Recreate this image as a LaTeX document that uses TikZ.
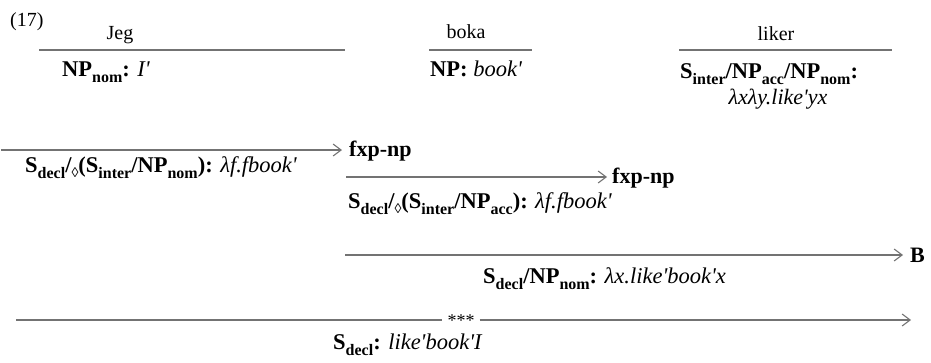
\documentclass[tikz,border=0pt]{standalone}
\usepackage{fontspec}
\setmainfont{Liberation Serif}
\usetikzlibrary{arrows.meta}
\definecolor{linegray}{RGB}{115,115,115}
\newcommand\sbx[1]{\raisebox{-0.3em}{\fontsize{16}{16}\selectfont #1}}
\newcommand\dmd{\raisebox{-0.25em}{\fontsize{14}{14}\selectfont\mdseries ◊}}
\newcommand\pr{\textquotesingle}
\begin{document}
\begin{tikzpicture}[x=1pt,y=-1pt,
  lbl/.style={anchor=base west, inner sep=0pt, font=\fontsize{22.5}{22.5}\selectfont},
  word/.style={anchor=base, inner sep=0pt, font=\fontsize{20}{20}\selectfont},
  rulebar/.style={draw=linegray, line width=1.6pt},
  arr/.style={rulebar, -{Straight Barb[length=8pt,width=12pt,line width=1.1pt]}},
  rname/.style={anchor=base west, inner sep=0pt, font=\fontsize{22}{22}\selectfont\bfseries}]
\useasboundingbox (0,0) rectangle (931,362);
% lexical items
\node[anchor=base west, inner sep=0pt, font=\fontsize{20}{20}\selectfont] (ex) at (10,26) {(17)};
\node[word] (jeg) at (120,39) {Jeg};
\node[word] (boka) at (466,38) {boka};
\node[word] (liker) at (776,40) {liker};
\coordinate (l1a) at (39,50); \coordinate (l1b) at (345,50);
\coordinate (l2a) at (429,50); \coordinate (l2b) at (532,50);
\coordinate (l3a) at (679,50); \coordinate (l3b) at (892,50);
\draw[rulebar] (l1a) -- (l1b);
\draw[rulebar] (l2a) -- (l2b);
\draw[rulebar] (l3a) -- (l3b);
\node[lbl] (jegsem) at (62,76) {\textbf{NP\sbx{nom}:} \textit{I\pr}};
\node[lbl] (bokasem) at (430,76) {\textbf{NP:} \textit{book\pr}};
\node[lbl] (likercat) at (680,78) {\textbf{S\sbx{inter}/NP\sbx{acc}/NP\sbx{nom}:}};
\node[word, font=\fontsize{22}{22}\selectfont\itshape] (likersem) at (778,104) {λxλy.like\pr yx};
% arrow 1
\coordinate (a1s) at (1,150); \coordinate (a1e) at (342,150);
\draw[arr] (a1s) -- (a1e);
\node[rname] (r1) at (349,156) {fxp-np};
\node[lbl] (c1) at (25,172) {\textbf{S\sbx{decl}/\dmd(S\sbx{inter}/NP\sbx{nom}):} \textit{λf.fbook\pr}};
% arrow 2
\coordinate (a2s) at (346,177); \coordinate (a2e) at (607,177);
\draw[arr] (a2s) -- (a2e);
\node[rname] (r2) at (612,183) {fxp-np};
\node[lbl] (c2) at (348,208) {\textbf{S\sbx{decl}/\dmd(S\sbx{inter}/NP\sbx{acc}):} \textit{λf.fbook\pr}};
% arrow 3
\coordinate (a3s) at (345,255); \coordinate (a3e) at (903,255);
\draw[arr] (a3s) -- (a3e);
\node[rname] (r3) at (910,262) {B};
\node[lbl] (c3) at (483,283) {\textbf{S\sbx{decl}/NP\sbx{nom}:} \textit{λx.like\pr book\pr x}};
% arrow 4
\coordinate (a4s) at (16,320); \coordinate (a4e) at (911,320);
\node[inner sep=0pt, font=\fontsize{18}{18}\selectfont] (stars) at (461,321) {***};
\draw[rulebar] (a4s) -- ([xshift=-5pt]stars.west |- a4s);
\draw[arr] ([xshift=5pt]stars.east |- a4s) -- (a4e);
\node[lbl] (c4) at (333,349) {\textbf{S\sbx{decl}:} \textit{like\pr book\pr I}};
\end{tikzpicture}
\end{document}
